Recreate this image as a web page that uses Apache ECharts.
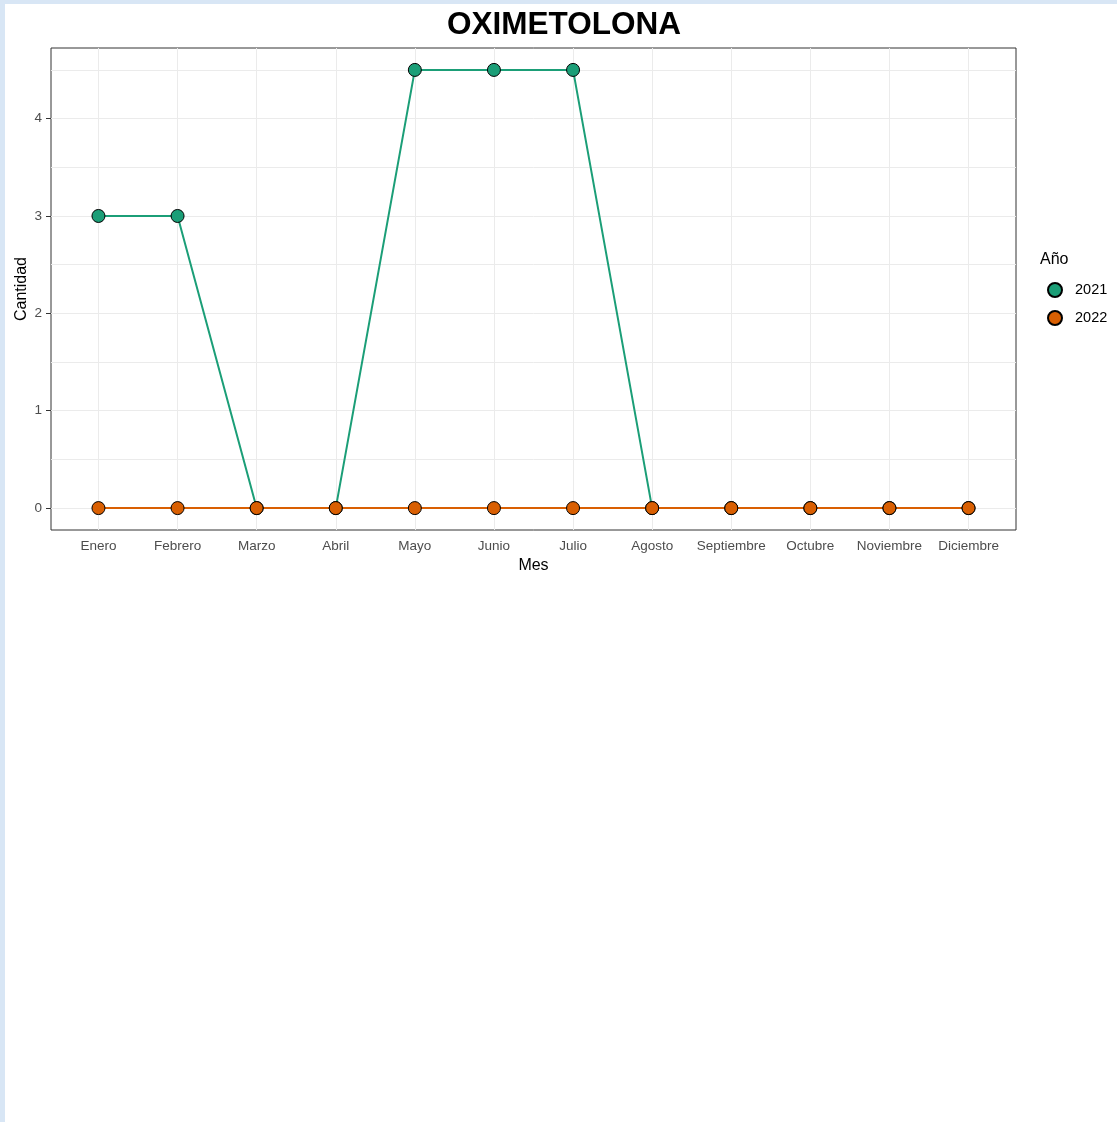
<!DOCTYPE html>
<html>
<head>
<meta charset="utf-8">
<script src="https://cdn.jsdelivr.net/npm/echarts@6/dist/echarts.min.js"></script>
<style>
  html, body { margin: 0; padding: 0; background: #d8e6f5; }
  #main { position: absolute; left: 5px; top: 4px; width: 1112px; height: 1118px; background: #ffffff; }
</style>
</head>
<body>
<div id="main"></div>
<script>
// datos
var meses = ['Enero', 'Febrero', 'Marzo', 'Abril', 'Mayo', 'Junio', 'Julio', 'Agosto', 'Septiembre', 'Octubre', 'Noviembre', 'Diciembre'];
var anios = ['2021', '2022'];
var cantidad2021 = [3, 3, 0, 0, 4.5, 4.5, 4.5, 0, 0, 0, 0, 0];
var cantidad2022 = [0, 0, 0, 0, 0, 0, 0, 0, 0, 0, 0, 0];
var yTicks = [0, 1, 2, 3, 4];
var yGrid = [0, 0.5, 1, 1.5, 2, 2.5, 3, 3.5, 4, 4.5];

var colores = ['#1B9E77', '#D95F02'];
var FONT = 'Liberation Sans, Arial, sans-serif';

var xPos = meses.map(function (m, i) { return i + 1; });

function toPoints(vals) {
  return vals.map(function (v, i) { return [i + 1, v]; });
}

var chart = echarts.init(document.getElementById('main'));

function serie(nombre, vals, color) {
  return {
    name: nombre,
    type: 'line',
    yAxisIndex: 1,
    data: toPoints(vals),
    symbol: 'circle',
    symbolSize: 13,
    lineStyle: { color: color, width: 2 },
    itemStyle: { color: color, borderColor: '#000000', borderWidth: 1 },
    emphasis: { disabled: true },
    animation: false
  };
}

var option = {
  backgroundColor: '#ffffff',
  animation: false,
  title: [
    {
      text: 'OXIMETOLONA',
      left: 442,
      top: 5,
      padding: 0,
      textStyle: { fontFamily: FONT, fontSize: 31.5, fontWeight: 'bold', color: '#000000' }
    },
    {
      text: 'Año',
      left: 1035,
      top: 248,
      padding: 0,
      textStyle: { fontFamily: FONT, fontSize: 16, fontWeight: 'normal', color: '#000000' }
    }
  ],
  legend: {
    data: anios,
    orient: 'vertical',
    left: 1042,
    top: 278,
    padding: 0,
    itemWidth: 14,
    itemHeight: 14,
    itemGap: 12,
    icon: 'circle',
    textStyle: { fontFamily: FONT, fontSize: 14.5, color: '#000000', padding: [0, 0, 0, 8] },
    selectedMode: false
  },
  grid: {
    left: 46,
    right: 101,
    top: 44,
    bottom: 592,
    containLabel: false,
    outerBoundsMode: 'none',
    show: true,
    borderColor: '#333333',
    borderWidth: 1,
    backgroundColor: 'transparent'
  },
  xAxis: {
    type: 'value',
    min: 0.4,
    max: 12.6,
    name: 'Mes',
    nameLocation: 'middle',
    nameGap: 28,
    nameMoveOverlap: false,
    nameTextStyle: { fontFamily: FONT, fontSize: 16, color: '#000000' },
    axisLine: { show: false },
    axisTick: { show: true, length: 4, customValues: xPos, lineStyle: { color: '#333333', width: 1 } },
    axisLabel: {
      customValues: xPos,
      margin: 9,
      fontFamily: FONT,
      fontSize: 13.5,
      color: '#4d4d4d',
      formatter: function (v) { return meses[Math.round(v) - 1] || ''; }
    },
    splitLine: { show: true, lineStyle: { color: '#ebebeb', width: 1 } }
  },
  yAxis: [
    {
      // solo rejilla
      type: 'value',
      min: -0.225,
      max: 4.725,
      axisLine: { show: false },
      axisTick: { show: false, customValues: yGrid },
      axisLabel: { show: false, customValues: yGrid },
      splitLine: { show: true, lineStyle: { color: '#ebebeb', width: 1 } }
    },
    {
      type: 'value',
      min: -0.225,
      max: 4.725,
      position: 'left',
      name: 'Cantidad',
      nameLocation: 'middle',
      nameGap: 21,
      nameMoveOverlap: false,
      nameTextStyle: { fontFamily: FONT, fontSize: 16, color: '#000000' },
      axisLine: { show: false },
      axisTick: { show: true, length: 5, customValues: yTicks, lineStyle: { color: '#333333', width: 1 } },
      axisLabel: { customValues: yTicks, margin: 9, fontFamily: FONT, fontSize: 13.5, color: '#4d4d4d' },
      splitLine: { show: false }
    }
  ],
  series: [
    serie(anios[0], cantidad2021, colores[0]),
    serie(anios[1], cantidad2022, colores[1])
  ]
};

chart.setOption(option);
</script>
</body>
</html>
